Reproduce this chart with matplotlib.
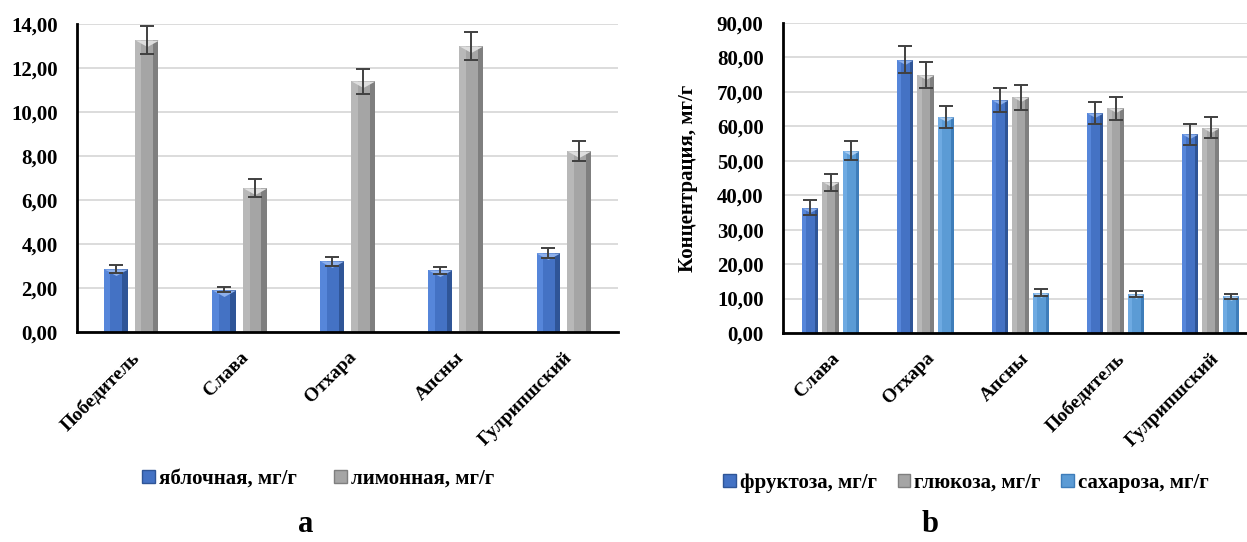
import matplotlib
matplotlib.use('Agg')
import matplotlib.pyplot as plt
import numpy as np
from matplotlib.patches import Patch
from matplotlib.ticker import FuncFormatter

plt.rcParams['font.family'] = ['Liberation Serif', 'DejaVu Serif']
plt.rcParams['font.weight'] = 'bold'

# chart a - acids
cats_a = ['Победитель', 'Слава', 'Отхара', 'Апсны', 'Гулрипшский']
malic = [2.87, 1.92, 3.21, 2.80, 3.60]
malic_err = [0.17, 0.12, 0.20, 0.17, 0.22]
citric = [13.27, 6.54, 11.39, 13.00, 8.24]
citric_err = [0.65, 0.40, 0.56, 0.63, 0.45]
labels_a = ['яблочная, мг/г', 'лимонная, мг/г']

# chart b - sugars
cats_b = ['Слава', 'Отхара', 'Апсны', 'Победитель', 'Гулрипшский']
fructose = [36.4, 79.4, 67.6, 63.9, 57.7]
fructose_err = [2.1, 4.0, 3.4, 3.3, 3.0]
glucose = [43.7, 74.9, 68.4, 65.2, 59.6]
glucose_err = [2.6, 3.9, 3.6, 3.3, 3.0]
sucrose = [52.9, 62.8, 11.7, 11.3, 10.6]
sucrose_err = [2.7, 3.2, 1.0, 0.8, 0.8]
labels_b = ['фруктоза, мг/г', 'глюкоза, мг/г', 'сахароза, мг/г']

# base, light strip, dark strip, top bevel
blue = ('#4472C4', '#5686DA', '#2F5597', '#8DB0EC')
gray = ('#A5A5A5', '#B8B8B8', '#7F7F7F', '#DEDEDE')
lblue = ('#5B9BD5', '#6EAAE2', '#3E7DBA', '#AACDF2')

top_tri = [(-1, 0), (1, 0), (0, -0.55)]


def draw_bars(ax, x, vals, errs, w, col, ms):
    vals = np.asarray(vals)
    ax.bar(x, vals, w, color=col[0], zorder=2)
    ax.bar(x - w * 0.36, vals, w * 0.28, color=col[1], zorder=3)
    ax.bar(x + w * 0.39, vals, w * 0.22, color=col[2], zorder=3)
    ax.plot(x, vals, ls='none', marker=top_tri, ms=ms, mfc=col[3], mec='none', zorder=4)
    ax.errorbar(x, vals, yerr=errs, fmt='none', ecolor='#404040', elinewidth=1.4,
                capsize=5, capthick=1.4, zorder=5)


def style_axis(ax, ymax, step, cats):
    ax.set_xlim(-0.5, len(cats) - 0.5)
    ax.set_ylim(0, ymax)
    ax.set_yticks(np.arange(0, ymax + step / 2, step))
    ax.yaxis.set_major_formatter(FuncFormatter(lambda v, _: f'{v:.2f}'.replace('.', ',')))
    ax.set_xticks(np.arange(len(cats)))
    ax.set_xticklabels(cats, rotation=45, ha='right', rotation_mode='anchor', fontsize=14)
    ax.tick_params(axis='both', length=0)
    ax.tick_params(axis='y', labelsize=15, pad=14)
    ax.tick_params(axis='x', pad=12)
    ax.yaxis.grid(True, color='#D9D9D9', lw=1.3)
    ax.set_axisbelow(True)
    for s in ['top', 'right']:
        ax.spines[s].set_visible(False)
    for s in ['left', 'bottom']:
        ax.spines[s].set_linewidth(2)
        ax.spines[s].set_zorder(6)


fig = plt.figure(figsize=(12.47, 5.42), dpi=100)

ax1 = fig.add_axes([77 / 1247, 210 / 542, 541 / 1247, 308 / 542])
x = np.arange(len(cats_a))
draw_bars(ax1, x - 0.143, malic, malic_err, 0.22, blue, 17)
draw_bars(ax1, x + 0.143, citric, citric_err, 0.22, gray, 17)
style_axis(ax1, 14, 2, cats_a)

ax2 = fig.add_axes([783 / 1247, 209 / 542, 475 / 1247, 310 / 542])
x = np.arange(len(cats_b))
draw_bars(ax2, x - 0.216, fructose, fructose_err, 0.17, blue, 11.5)
draw_bars(ax2, x, glucose, glucose_err, 0.17, gray, 11.5)
draw_bars(ax2, x + 0.216, sucrose, sucrose_err, 0.17, lblue, 11.5)
style_axis(ax2, 90, 10, cats_b)
ax2.set_ylabel('Концентрация, мг/г', fontsize=15, fontweight='bold')
ax2.yaxis.set_label_coords(-0.178, 0.5)

hand_a = [Patch(facecolor=c[0], edgecolor=c[2]) for c in (blue, gray)]
fig.legend(hand_a, labels_a, loc='center', bbox_to_anchor=(318 / 1247, 1 - 479 / 542),
           ncol=2, frameon=False, fontsize=15, handlelength=0.6, handleheight=0.6,
           handletextpad=0.2, columnspacing=1.8)
hand_b = [Patch(facecolor=c[0], edgecolor=c[2]) for c in (blue, gray, lblue)]
fig.legend(hand_b, labels_b, loc='center', bbox_to_anchor=(966 / 1247, 1 - 483 / 542),
           ncol=3, frameon=False, fontsize=15, handlelength=0.6, handleheight=0.6,
           handletextpad=0.2, columnspacing=1.0)

fig.text(306 / 1247, 1 - 524 / 542, 'a', fontsize=22, fontweight='bold', ha='center', va='center')
fig.text(930 / 1247, 1 - 524 / 542, 'b', fontsize=22, fontweight='bold', ha='center', va='center')

fig.savefig('out.png', dpi=100)
